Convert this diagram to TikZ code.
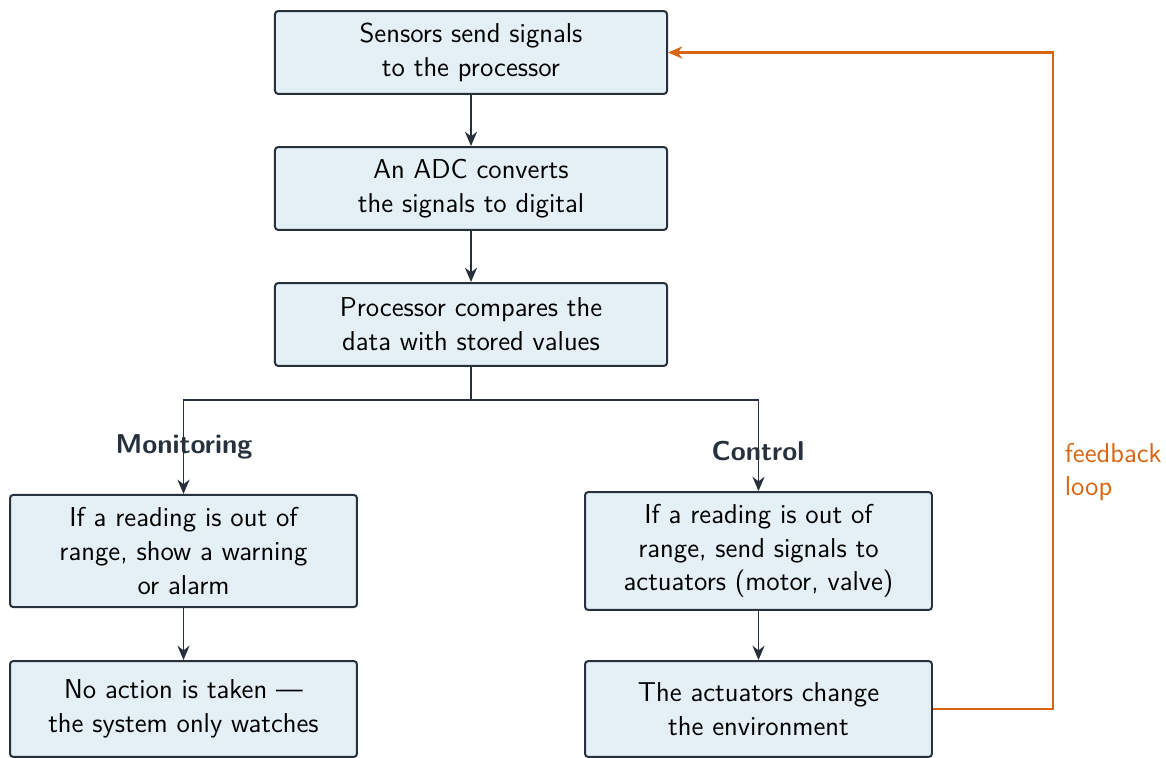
\documentclass[tikz,border=0pt]{standalone}
\usepackage{amsmath}
\usepackage{tikz}
\usetikzlibrary{arrows.meta}

\definecolor{boxfill}{HTML}{E5EFF6}
\definecolor{ink}{HTML}{27303D}
\definecolor{loopcol}{HTML}{D8650F}

\begin{document}
\begin{tikzpicture}[x=0.4545pt,y=-0.4545pt,
    font=\sffamily\fontsize{12.4}{15.3}\selectfont,
    stepbox/.style={rectangle,rounded corners=1.5pt,draw=ink,fill=boxfill,line width=0.9pt,
        align=center,text=black,minimum width=178.2pt,minimum height=37.7pt,inner sep=2pt},
    widebox/.style={stepbox,minimum width=157.7pt,minimum height=51pt},
    flow/.style={draw=ink,line width=0.9pt,-{Stealth[length=6.5pt,width=5.5pt]}},
    branch/.style={font=\sffamily\bfseries\fontsize{12.4}{15.3}\selectfont,text=ink}]

\useasboundingbox (0,0) rectangle (1166,758);

\node[stepbox] (sense) at (471,52.5) {Sensors send signals\\to the processor};
\node[stepbox] (adc) at (471,188.5) {An ADC converts\\the signals to digital};
\node[stepbox] (proc) at (471,324.5) {Processor compares the\\data with stored values};

\node[widebox] (warn) at (183.5,551) {If a reading is out of\\range, show a warning\\or alarm};
\node[widebox,minimum height=53.6pt] (act) at (758.5,551) {If a reading is out of\\range, send signals to\\actuators (motor, valve)};
\node[widebox,minimum height=43.6pt] (watch) at (183.5,709) {No action is taken ---\\the system only watches};
\node[widebox,minimum height=43.6pt] (change) at (758.5,709) {The actuators change\\the environment};

\node[branch] (mon) at (184,447) {Monitoring};
\node[branch] (ctl) at (758,451) {Control};

\coordinate (split) at (471,400);
\coordinate (loopcorner) at (1053,52.5);

\draw[flow] (sense) -- (adc);
\draw[flow] (adc) -- (proc);
\draw[draw=ink,line width=0.9pt] (proc.south) -- (split);
\draw[flow] (split) -| (warn.north);
\draw[flow] (split) -| (act.north);
\draw[flow] (warn) -- (watch);
\draw[flow] (act) -- (change);

% feedback path back to the sensors
\draw[draw=loopcol,line width=1.1pt,-{Stealth[length=6.5pt,width=5.5pt]}]
    (change.east) -| (loopcorner) -- (sense.east);
\node[anchor=west,align=left,text=loopcol] (fb) at (1057,472) {feedback\\loop};
\end{tikzpicture}
\end{document}
